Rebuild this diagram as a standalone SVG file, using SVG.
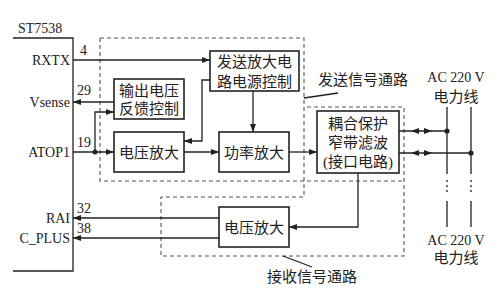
<svg xmlns="http://www.w3.org/2000/svg" width="500" height="304" viewBox="0 0 500 304">
<defs>
<style>
.lat{font-family:"Liberation Serif","Noto Sans CJK SC",serif;font-size:14px;fill:#222}
.cjk{font-family:"Liberation Serif","Noto Sans CJK SC",serif;font-size:15px;fill:#222}
.box{fill:#fff;stroke:#222;stroke-width:1.6}
.wire{fill:none;stroke:#222;stroke-width:1.3}
.dash{fill:none;stroke:#555;stroke-width:1.1;stroke-dasharray:4 3}
.dot{fill:#222}
</style>
<marker id="arr" markerWidth="8" markerHeight="6" refX="8" refY="3" orient="auto" markerUnits="userSpaceOnUse">
<path d="M0,0 L8,3 L0,6 z" fill="#222"/>
</marker>
</defs>
<rect width="500" height="304" fill="#fff"/>

<g id="regions">
<path class="dash" d="M100,38 H304 V197 H161 V256 H404 V107 H304"/>
<path class="dash" d="M100,38 V181 H404"/>
</g>

<g id="chip">
<path class="wire" stroke-width="1.8" d="M13,38 H73 V271 H13"/>
<text class="lat" x="18" y="33" font-size="15">ST7538</text>
<text class="lat" x="70" y="65" text-anchor="end">RXTX</text>
<text class="lat" x="70" y="107" text-anchor="end">Vsense</text>
<text class="lat" x="70" y="157" text-anchor="end">ATOP1</text>
<text class="lat" x="70" y="223" text-anchor="end">RAI</text>
<text class="lat" x="70" y="243" text-anchor="end">C_PLUS</text>
<text class="lat" x="80" y="55">4</text>
<text class="lat" x="77" y="95">29</text>
<text class="lat" x="77" y="147">19</text>
<text class="lat" x="77" y="213">32</text>
<text class="lat" x="77" y="233">38</text>
</g>

<g id="connectors">
<path class="wire" d="M73,60 H210" marker-end="url(#arr)"/>
<path class="wire" d="M114,102 H73" marker-end="url(#arr)"/>
<path class="wire" d="M73,152 H114" marker-end="url(#arr)"/>
<path class="wire" d="M95,152 V112 H114" marker-end="url(#arr)"/>
<path class="wire" d="M210,80 H202 V141 H184" marker-end="url(#arr)"/>
<path class="wire" d="M253,91 V132" marker-end="url(#arr)"/>
<path class="wire" d="M184,152 H219" marker-end="url(#arr)"/>
<path class="wire" d="M289,152 H317" marker-end="url(#arr)"/>
<path class="wire" d="M358,173 V227 H289" marker-end="url(#arr)"/>
<path class="wire" d="M219,218 H73" marker-end="url(#arr)"/>
<path class="wire" d="M219,238 H73" marker-end="url(#arr)"/>
<path class="wire" d="M399,131 H447"/>
<path class="wire" d="M399,153 H471"/>
<polygon class="dot" points="411,131 419,128 419,134"/>
<polygon class="dot" points="432,131 424,128 424,134"/>
<polygon class="dot" points="411,153 419,150 419,156"/>
<polygon class="dot" points="432,153 424,150 424,156"/>
<circle class="dot" cx="95" cy="152" r="2.5"/>
<circle class="dot" cx="447" cy="131" r="2.6"/>
<circle class="dot" cx="471" cy="153" r="2.6"/>
<path class="wire" d="M304,98 L338,93"/>
<path class="wire" d="M283,256 L312,267"/>
</g>

<g id="powerline">
<path class="wire" d="M447,107 V174 M447,201 V227 M471,107 V174 M471,201 V227"/>
<path class="wire" stroke-width="2" stroke-dasharray="2 3" d="M447,180 V195 M471,180 V195"/>
<text class="lat" x="456" y="82" text-anchor="middle" font-size="15">AC 220 V</text>
<text class="cjk" x="456" y="102" text-anchor="middle">电力线</text>
<text class="lat" x="456" y="245" text-anchor="middle" font-size="15">AC 220 V</text>
<text class="cjk" x="456" y="263" text-anchor="middle">电力线</text>
</g>

<g id="labels">
<text class="cjk" x="318" y="85">发送信号通路</text>
<text class="cjk" x="267" y="282">接收信号通路</text>
</g>

<g id="tx-power-ctrl">
<rect class="box" x="210" y="51" width="89" height="40"/>
<text class="cjk" x="254.5" y="67" text-anchor="middle">发送放大电</text>
<text class="cjk" x="254.5" y="87" text-anchor="middle">路电源控制</text>
</g>

<g id="feedback-ctrl">
<rect class="box" x="114" y="79" width="70" height="40"/>
<text class="cjk" x="149" y="96" text-anchor="middle">输出电压</text>
<text class="cjk" x="149" y="114" text-anchor="middle">反馈控制</text>
</g>

<g id="tx-voltage-amp">
<rect class="box" x="114" y="132" width="70" height="40"/>
<text class="cjk" x="149" y="158" text-anchor="middle">电压放大</text>
</g>

<g id="power-amp">
<rect class="box" x="219" y="132" width="70" height="40"/>
<text class="cjk" x="254" y="158" text-anchor="middle">功率放大</text>
</g>

<g id="coupling">
<rect class="box" x="317" y="111" width="82" height="62"/>
<text class="cjk" x="358" y="129" text-anchor="middle">耦合保护</text>
<text class="cjk" x="358" y="148" text-anchor="middle">窄带滤波</text>
<text class="cjk" x="358" y="167" text-anchor="middle">(接口电路)</text>
</g>

<g id="rx-voltage-amp">
<rect class="box" x="219" y="207" width="70" height="40"/>
<text class="cjk" x="254" y="233" text-anchor="middle">电压放大</text>
</g>
</svg>
